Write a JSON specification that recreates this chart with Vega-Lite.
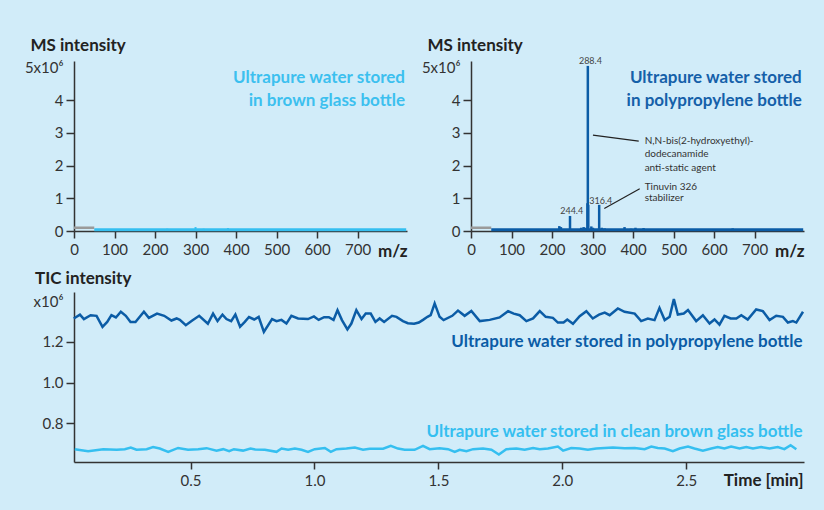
{
  "$schema": "https://vega.github.io/schema/vega-lite/v6.json",
  "background": "#d1ecf9",
  "padding": {"left": 24, "top": 36, "right": 30, "bottom": 30},
  "spacing": 10,
  "config": {
    "font": "Lato",
    "view": {"stroke": null},
    "axis": {
      "grid": false, "domainColor": "#333", "domainWidth": 1.5,
      "tickColor": "#333", "tickWidth": 1.5, "tickSize": 7,
      "labelFont": "Lato", "labelFontSize": 15, "labelColor": "#333",
      "labelPadding": 3, "labelFlush": false, "labelOverlap": false,
      "titleFont": "Lato", "titleFontSize": 17, "titleFontWeight": "bold", "titleColor": "#222"
    }
  },
  "datasets": {
    "grayseg": [{"mz": 0, "i": 0.1}, {"mz": 50, "i": 0.1}],
    "base": [{"mz": 50, "i": 0.04}, {"mz": 820, "i": 0.04}],
    "glassPeaks": [
      {"mz": 150, "i": 0.04}, {"mz": 220, "i": 0.06}, {"mz": 230, "i": 0.07}, {"mz": 260, "i": 0.06},
      {"mz": 300, "i": 0.12}, {"mz": 320, "i": 0.07}, {"mz": 380, "i": 0.09}, {"mz": 420, "i": 0.06},
      {"mz": 560, "i": 0.06}, {"mz": 620, "i": 0.05}
    ],
    "glassLabels": [
      {"mz": 817, "i": 4.69, "label": "Ultrapure water stored"},
      {"mz": 817, "i": 3.98, "label": "in brown glass bottle"}
    ],
    "ppPeaks": [
      {"mz": 150, "i": 0.05}, {"mz": 165, "i": 0.04}, {"mz": 180, "i": 0.04}, {"mz": 200, "i": 0.05},
      {"mz": 218, "i": 0.15}, {"mz": 222, "i": 0.12}, {"mz": 244.4, "i": 0.46}, {"mz": 265, "i": 0.06},
      {"mz": 272, "i": 0.1}, {"mz": 278, "i": 0.12}, {"mz": 282, "i": 0.1}, {"mz": 287.4, "i": 0.85},
      {"mz": 288.4, "i": 5.05}, {"mz": 289.4, "i": 0.8}, {"mz": 297, "i": 0.14}, {"mz": 301, "i": 0.1},
      {"mz": 316.4, "i": 0.8}, {"mz": 323, "i": 0.1}, {"mz": 330, "i": 0.08}, {"mz": 345, "i": 0.06},
      {"mz": 365, "i": 0.06}, {"mz": 379, "i": 0.12}, {"mz": 395, "i": 0.07}, {"mz": 406, "i": 0.1},
      {"mz": 414, "i": 0.06}, {"mz": 426, "i": 0.09}, {"mz": 440, "i": 0.06}, {"mz": 460, "i": 0.06},
      {"mz": 480, "i": 0.05}, {"mz": 500, "i": 0.05}, {"mz": 520, "i": 0.04}, {"mz": 560, "i": 0.04},
      {"mz": 600, "i": 0.04}, {"mz": 646, "i": 0.08}
    ],
    "ppLabels": [
      {"mz": 816.5, "i": 4.69, "label": "Ultrapure water stored"},
      {"mz": 816.5, "i": 3.98, "label": "in polypropylene bottle"}
    ],
    "peakLabels": [
      {"mz": 294.8, "i": 5.2, "label": "288.4"},
      {"mz": 248.6, "i": 0.61, "label": "244.4"},
      {"mz": 320.2, "i": 0.93, "label": "316.4"}
    ],
    "calloutText": [
      {"mz": 428.6, "i": 2.75, "label": "N,N-bis(2-hydroxyethyl)-"},
      {"mz": 428.6, "i": 2.345, "label": "dodecanamide"},
      {"mz": 428.6, "i": 1.94, "label": "anti-static agent"},
      {"mz": 428.6, "i": 1.355, "label": "Tinuvin 326"},
      {"mz": 428.6, "i": 1.0, "label": "stabilizer"}
    ],
    "calloutLines": [
      {"mz": 301, "i": 2.93, "mz2": 414, "i2": 2.75},
      {"mz": 329, "i": 0.69, "mz2": 416.5, "i2": 1.29}
    ],
    "ticLabels": [
      {"t": 2.969, "v": 1.2, "s": "pp", "label": "Ultrapure water stored in polypropylene bottle"},
      {"t": 2.969, "v": 0.756, "s": "glass", "label": "Ultrapure water stored in clean brown glass bottle"}
    ],
    "tic": [
      {"s": "pp", "t": 0.029, "v": 1.315}, {"s": "pp", "t": 0.054, "v": 1.334}, {"s": "pp", "t": 0.070, "v": 1.312},
      {"s": "pp", "t": 0.097, "v": 1.331}, {"s": "pp", "t": 0.121, "v": 1.328}, {"s": "pp", "t": 0.145, "v": 1.274},
      {"s": "pp", "t": 0.164, "v": 1.298}, {"s": "pp", "t": 0.181, "v": 1.331}, {"s": "pp", "t": 0.199, "v": 1.320},
      {"s": "pp", "t": 0.219, "v": 1.348}, {"s": "pp", "t": 0.239, "v": 1.328}, {"s": "pp", "t": 0.258, "v": 1.298},
      {"s": "pp", "t": 0.278, "v": 1.298}, {"s": "pp", "t": 0.312, "v": 1.348}, {"s": "pp", "t": 0.332, "v": 1.318},
      {"s": "pp", "t": 0.365, "v": 1.339}, {"s": "pp", "t": 0.394, "v": 1.328}, {"s": "pp", "t": 0.423, "v": 1.305},
      {"s": "pp", "t": 0.444, "v": 1.315}, {"s": "pp", "t": 0.457, "v": 1.308}, {"s": "pp", "t": 0.481, "v": 1.282},
      {"s": "pp", "t": 0.507, "v": 1.305}, {"s": "pp", "t": 0.535, "v": 1.328}, {"s": "pp", "t": 0.570, "v": 1.289},
      {"s": "pp", "t": 0.591, "v": 1.339}, {"s": "pp", "t": 0.609, "v": 1.302}, {"s": "pp", "t": 0.629, "v": 1.334},
      {"s": "pp", "t": 0.645, "v": 1.312}, {"s": "pp", "t": 0.664, "v": 1.302}, {"s": "pp", "t": 0.681, "v": 1.334},
      {"s": "pp", "t": 0.700, "v": 1.274}, {"s": "pp", "t": 0.719, "v": 1.298}, {"s": "pp", "t": 0.736, "v": 1.322},
      {"s": "pp", "t": 0.757, "v": 1.310}, {"s": "pp", "t": 0.775, "v": 1.323}, {"s": "pp", "t": 0.796, "v": 1.249},
      {"s": "pp", "t": 0.829, "v": 1.312}, {"s": "pp", "t": 0.847, "v": 1.302}, {"s": "pp", "t": 0.867, "v": 1.308},
      {"s": "pp", "t": 0.887, "v": 1.290}, {"s": "pp", "t": 0.907, "v": 1.328}, {"s": "pp", "t": 0.934, "v": 1.315},
      {"s": "pp", "t": 0.974, "v": 1.312}, {"s": "pp", "t": 0.998, "v": 1.325}, {"s": "pp", "t": 1.017, "v": 1.308},
      {"s": "pp", "t": 1.039, "v": 1.321}, {"s": "pp", "t": 1.058, "v": 1.321}, {"s": "pp", "t": 1.077, "v": 1.308},
      {"s": "pp", "t": 1.093, "v": 1.356}, {"s": "pp", "t": 1.111, "v": 1.307}, {"s": "pp", "t": 1.133, "v": 1.261},
      {"s": "pp", "t": 1.149, "v": 1.290}, {"s": "pp", "t": 1.169, "v": 1.356}, {"s": "pp", "t": 1.190, "v": 1.312},
      {"s": "pp", "t": 1.207, "v": 1.339}, {"s": "pp", "t": 1.227, "v": 1.339}, {"s": "pp", "t": 1.246, "v": 1.298},
      {"s": "pp", "t": 1.263, "v": 1.315}, {"s": "pp", "t": 1.281, "v": 1.298}, {"s": "pp", "t": 1.313, "v": 1.328},
      {"s": "pp", "t": 1.331, "v": 1.323}, {"s": "pp", "t": 1.357, "v": 1.302}, {"s": "pp", "t": 1.377, "v": 1.292},
      {"s": "pp", "t": 1.402, "v": 1.289}, {"s": "pp", "t": 1.421, "v": 1.295}, {"s": "pp", "t": 1.438, "v": 1.308},
      {"s": "pp", "t": 1.456, "v": 1.323}, {"s": "pp", "t": 1.469, "v": 1.331}, {"s": "pp", "t": 1.485, "v": 1.389},
      {"s": "pp", "t": 1.505, "v": 1.323}, {"s": "pp", "t": 1.521, "v": 1.307}, {"s": "pp", "t": 1.556, "v": 1.328},
      {"s": "pp", "t": 1.579, "v": 1.354}, {"s": "pp", "t": 1.606, "v": 1.328}, {"s": "pp", "t": 1.633, "v": 1.352},
      {"s": "pp", "t": 1.667, "v": 1.302}, {"s": "pp", "t": 1.707, "v": 1.308}, {"s": "pp", "t": 1.747, "v": 1.320},
      {"s": "pp", "t": 1.781, "v": 1.351}, {"s": "pp", "t": 1.804, "v": 1.339}, {"s": "pp", "t": 1.828, "v": 1.331},
      {"s": "pp", "t": 1.855, "v": 1.302}, {"s": "pp", "t": 1.882, "v": 1.315}, {"s": "pp", "t": 1.909, "v": 1.351},
      {"s": "pp", "t": 1.933, "v": 1.323}, {"s": "pp", "t": 1.962, "v": 1.318}, {"s": "pp", "t": 1.982, "v": 1.295},
      {"s": "pp", "t": 2.005, "v": 1.295}, {"s": "pp", "t": 2.020, "v": 1.310}, {"s": "pp", "t": 2.043, "v": 1.289},
      {"s": "pp", "t": 2.070, "v": 1.326}, {"s": "pp", "t": 2.097, "v": 1.351}, {"s": "pp", "t": 2.123, "v": 1.315},
      {"s": "pp", "t": 2.148, "v": 1.334}, {"s": "pp", "t": 2.171, "v": 1.344}, {"s": "pp", "t": 2.191, "v": 1.331},
      {"s": "pp", "t": 2.224, "v": 1.364}, {"s": "pp", "t": 2.251, "v": 1.348}, {"s": "pp", "t": 2.292, "v": 1.339},
      {"s": "pp", "t": 2.318, "v": 1.302}, {"s": "pp", "t": 2.345, "v": 1.315}, {"s": "pp", "t": 2.372, "v": 1.307},
      {"s": "pp", "t": 2.392, "v": 1.367}, {"s": "pp", "t": 2.413, "v": 1.307}, {"s": "pp", "t": 2.433, "v": 1.323},
      {"s": "pp", "t": 2.450, "v": 1.410}, {"s": "pp", "t": 2.466, "v": 1.334}, {"s": "pp", "t": 2.490, "v": 1.339},
      {"s": "pp", "t": 2.507, "v": 1.356}, {"s": "pp", "t": 2.540, "v": 1.302}, {"s": "pp", "t": 2.567, "v": 1.331},
      {"s": "pp", "t": 2.594, "v": 1.290}, {"s": "pp", "t": 2.614, "v": 1.310}, {"s": "pp", "t": 2.634, "v": 1.285},
      {"s": "pp", "t": 2.654, "v": 1.328}, {"s": "pp", "t": 2.679, "v": 1.315}, {"s": "pp", "t": 2.702, "v": 1.315},
      {"s": "pp", "t": 2.722, "v": 1.331}, {"s": "pp", "t": 2.748, "v": 1.310}, {"s": "pp", "t": 2.782, "v": 1.359},
      {"s": "pp", "t": 2.809, "v": 1.351}, {"s": "pp", "t": 2.836, "v": 1.307}, {"s": "pp", "t": 2.863, "v": 1.328},
      {"s": "pp", "t": 2.890, "v": 1.323}, {"s": "pp", "t": 2.910, "v": 1.295}, {"s": "pp", "t": 2.930, "v": 1.302},
      {"s": "pp", "t": 2.944, "v": 1.295}, {"s": "pp", "t": 2.971, "v": 1.348},
      {"s": "glass", "t": 0.033, "v": 0.673}, {"s": "glass", "t": 0.087, "v": 0.663}, {"s": "glass", "t": 0.148, "v": 0.673},
      {"s": "glass", "t": 0.202, "v": 0.670}, {"s": "glass", "t": 0.235, "v": 0.673}, {"s": "glass", "t": 0.259, "v": 0.681},
      {"s": "glass", "t": 0.282, "v": 0.670}, {"s": "glass", "t": 0.323, "v": 0.673}, {"s": "glass", "t": 0.349, "v": 0.683},
      {"s": "glass", "t": 0.376, "v": 0.676}, {"s": "glass", "t": 0.410, "v": 0.660}, {"s": "glass", "t": 0.450, "v": 0.679},
      {"s": "glass", "t": 0.490, "v": 0.670}, {"s": "glass", "t": 0.531, "v": 0.673}, {"s": "glass", "t": 0.565, "v": 0.678},
      {"s": "glass", "t": 0.605, "v": 0.665}, {"s": "glass", "t": 0.632, "v": 0.673}, {"s": "glass", "t": 0.656, "v": 0.663},
      {"s": "glass", "t": 0.675, "v": 0.673}, {"s": "glass", "t": 0.712, "v": 0.666}, {"s": "glass", "t": 0.742, "v": 0.676},
      {"s": "glass", "t": 0.761, "v": 0.671}, {"s": "glass", "t": 0.800, "v": 0.670}, {"s": "glass", "t": 0.847, "v": 0.660},
      {"s": "glass", "t": 0.867, "v": 0.676}, {"s": "glass", "t": 0.894, "v": 0.670}, {"s": "glass", "t": 0.921, "v": 0.676},
      {"s": "glass", "t": 0.948, "v": 0.670}, {"s": "glass", "t": 0.974, "v": 0.660}, {"s": "glass", "t": 1.001, "v": 0.673},
      {"s": "glass", "t": 1.042, "v": 0.679}, {"s": "glass", "t": 1.066, "v": 0.660}, {"s": "glass", "t": 1.089, "v": 0.673},
      {"s": "glass", "t": 1.129, "v": 0.676}, {"s": "glass", "t": 1.163, "v": 0.681}, {"s": "glass", "t": 1.196, "v": 0.670},
      {"s": "glass", "t": 1.223, "v": 0.675}, {"s": "glass", "t": 1.277, "v": 0.675}, {"s": "glass", "t": 1.308, "v": 0.689},
      {"s": "glass", "t": 1.337, "v": 0.676}, {"s": "glass", "t": 1.364, "v": 0.670}, {"s": "glass", "t": 1.404, "v": 0.670},
      {"s": "glass", "t": 1.438, "v": 0.689}, {"s": "glass", "t": 1.465, "v": 0.673}, {"s": "glass", "t": 1.505, "v": 0.678},
      {"s": "glass", "t": 1.539, "v": 0.673}, {"s": "glass", "t": 1.566, "v": 0.660}, {"s": "glass", "t": 1.586, "v": 0.670},
      {"s": "glass", "t": 1.613, "v": 0.663}, {"s": "glass", "t": 1.640, "v": 0.673}, {"s": "glass", "t": 1.680, "v": 0.676},
      {"s": "glass", "t": 1.714, "v": 0.670}, {"s": "glass", "t": 1.744, "v": 0.647}, {"s": "glass", "t": 1.774, "v": 0.673},
      {"s": "glass", "t": 1.815, "v": 0.676}, {"s": "glass", "t": 1.848, "v": 0.670}, {"s": "glass", "t": 1.882, "v": 0.679},
      {"s": "glass", "t": 1.909, "v": 0.673}, {"s": "glass", "t": 1.942, "v": 0.676}, {"s": "glass", "t": 1.982, "v": 0.686},
      {"s": "glass", "t": 2.003, "v": 0.666}, {"s": "glass", "t": 2.036, "v": 0.679}, {"s": "glass", "t": 2.070, "v": 0.676},
      {"s": "glass", "t": 2.103, "v": 0.670}, {"s": "glass", "t": 2.137, "v": 0.676}, {"s": "glass", "t": 2.171, "v": 0.679},
      {"s": "glass", "t": 2.204, "v": 0.681}, {"s": "glass", "t": 2.251, "v": 0.678}, {"s": "glass", "t": 2.292, "v": 0.679},
      {"s": "glass", "t": 2.332, "v": 0.673}, {"s": "glass", "t": 2.359, "v": 0.686}, {"s": "glass", "t": 2.385, "v": 0.679},
      {"s": "glass", "t": 2.413, "v": 0.676}, {"s": "glass", "t": 2.446, "v": 0.663}, {"s": "glass", "t": 2.473, "v": 0.676},
      {"s": "glass", "t": 2.507, "v": 0.686}, {"s": "glass", "t": 2.533, "v": 0.676}, {"s": "glass", "t": 2.567, "v": 0.666},
      {"s": "glass", "t": 2.601, "v": 0.676}, {"s": "glass", "t": 2.627, "v": 0.683}, {"s": "glass", "t": 2.654, "v": 0.676},
      {"s": "glass", "t": 2.681, "v": 0.686}, {"s": "glass", "t": 2.715, "v": 0.676}, {"s": "glass", "t": 2.742, "v": 0.683},
      {"s": "glass", "t": 2.769, "v": 0.676}, {"s": "glass", "t": 2.802, "v": 0.683}, {"s": "glass", "t": 2.836, "v": 0.676},
      {"s": "glass", "t": 2.869, "v": 0.683}, {"s": "glass", "t": 2.896, "v": 0.673}, {"s": "glass", "t": 2.921, "v": 0.692},
      {"s": "glass", "t": 2.944, "v": 0.673}
    ]
  },
  "vconcat": [
    {
      "hconcat": [
        {
          "width": 333, "height": 170,
          "encoding": {
            "x": {"field": "mz", "type": "quantitative", "scale": {"domain": [0, 822], "nice": false, "zero": false},
              "axis": {"values": [0, 100, 200, 300, 400, 500, 600, 700], "labelPadding": 4, "title": "m/z", "titleAlign": "right", "titleBaseline": "middle", "titleX": 333, "titleY": 20}},
            "y": {"field": "i", "type": "quantitative", "scale": {"domain": [0, 5.2], "nice": false, "zero": false},
              "axis": {"values": [0, 1, 2, 3, 4, 5], "tickSize": 8, "labelExpr": "datum.value == 5 ? '5x10⁶' : datum.label",
                "tickOpacity": {"condition": {"test": "datum.value == 5", "value": 0}, "value": 1},
                "title": "MS intensity", "titleAngle": 0, "titleAlign": "left", "titleBaseline": "middle", "titleX": -44, "titleY": -15.5}}
          },
          "layer": [
            {"data": {"name": "grayseg"}, "mark": {"type": "line", "color": "#9a9a9a", "strokeWidth": 2.5}},
            {"data": {"name": "base"}, "mark": {"type": "line", "color": "#35bff0", "strokeWidth": 3}},
            {"data": {"name": "glassPeaks"}, "mark": {"type": "rule", "color": "#35bff0", "strokeWidth": 2}, "encoding": {"y2": {"datum": 0}}},
            {"data": {"name": "glassLabels"}, "mark": {"type": "text", "align": "right", "baseline": "middle", "fontSize": 17, "fontWeight": "bold", "color": "#3cc0ef"}, "encoding": {"text": {"field": "label"}}}
          ]
        },
        {
          "width": 333, "height": 170,
          "encoding": {
            "x": {"field": "mz", "type": "quantitative", "scale": {"domain": [0, 822], "nice": false, "zero": false},
              "axis": {"values": [0, 100, 200, 300, 400, 500, 600, 700], "labelPadding": 4, "title": "m/z", "titleAlign": "right", "titleBaseline": "middle", "titleX": 333, "titleY": 20}},
            "y": {"field": "i", "type": "quantitative", "scale": {"domain": [0, 5.2], "nice": false, "zero": false},
              "axis": {"values": [0, 1, 2, 3, 4, 5], "tickSize": 8, "labelExpr": "datum.value == 5 ? '5x10⁶' : datum.label",
                "tickOpacity": {"condition": {"test": "datum.value == 5", "value": 0}, "value": 1},
                "title": "MS intensity", "titleAngle": 0, "titleAlign": "left", "titleBaseline": "middle", "titleX": -44, "titleY": -15.5}}
          },
          "layer": [
            {"data": {"name": "grayseg"}, "mark": {"type": "line", "color": "#9a9a9a", "strokeWidth": 2.5}},
            {"data": {"name": "base"}, "mark": {"type": "line", "color": "#0b5ca6", "strokeWidth": 3}},
            {"data": {"name": "ppPeaks"}, "mark": {"type": "rule", "color": "#0b5ca6", "strokeWidth": 2.5}, "encoding": {"y2": {"datum": 0}}},
            {"data": {"name": "calloutLines"}, "mark": {"type": "rule", "color": "#222", "strokeWidth": 1.2}, "encoding": {"x2": {"field": "mz2"}, "y2": {"field": "i2"}}},
            {"data": {"name": "peakLabels"}, "mark": {"type": "text", "align": "center", "baseline": "middle", "fontSize": 9, "color": "#444"}, "encoding": {"text": {"field": "label"}}},
            {"data": {"name": "calloutText"}, "mark": {"type": "text", "align": "left", "baseline": "middle", "fontSize": 10, "color": "#333"}, "encoding": {"text": {"field": "label"}}},
            {"data": {"name": "ppLabels"}, "mark": {"type": "text", "align": "right", "baseline": "middle", "fontSize": 17, "fontWeight": "bold", "color": "#1560a9"}, "encoding": {"text": {"field": "label"}}}
          ]
        }
      ],
      "spacing": 64,
      "bounds": "flush"
    },
    {
      "width": 730, "height": 170,
      "encoding": {
        "x": {"field": "t", "type": "quantitative", "scale": {"domain": [0.03, 2.975], "nice": false, "zero": false},
          "axis": {"values": [0.5, 1, 1.5, 2, 2.5], "format": ".1f", "labelPadding": 4, "title": "Time [min]", "titleAlign": "right", "titleBaseline": "middle", "titleX": 729, "titleY": 18.5}},
        "y": {"field": "v", "type": "quantitative", "scale": {"domain": [0.61, 1.445], "nice": false, "zero": false},
          "axis": {"values": [0.8, 1.0, 1.2, 1.4], "tickSize": 8, "labelExpr": "datum.value > 1.35 ? 'x10⁶' : format(datum.value, '.1f')",
            "tickOpacity": {"condition": {"test": "datum.value > 1.35", "value": 0}, "value": 1},
            "title": "TIC intensity", "titleAngle": 0, "titleAlign": "left", "titleBaseline": "middle", "titleX": -39.5, "titleY": -14}},
        "color": {"field": "s", "type": "nominal", "scale": {"domain": ["pp", "glass"], "range": ["#0b5ca6", "#35bff0"]}, "legend": null}
      },
      "layer": [
        {"data": {"name": "tic"}, "mark": {"type": "line", "strokeWidth": 2.5}},
        {"data": {"name": "ticLabels"}, "mark": {"type": "text", "align": "right", "baseline": "middle", "fontSize": 17, "fontWeight": "bold"}, "encoding": {"text": {"field": "label"}}}
      ]
    }
  ]
}
